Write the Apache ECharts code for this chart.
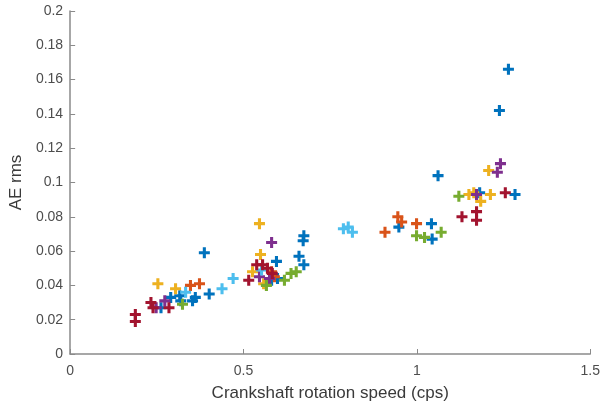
<!DOCTYPE html>
<html>
<head>
<meta charset="utf-8">
<script src="https://cdn.jsdelivr.net/npm/echarts@6/dist/echarts.min.js"></script>
<style>
    html, body {margin: 0; padding: 0; background: #fff;}
    #container {width: 603px; height: 407px;}
</style>
</head>
<body>
<div id="container"></div>
<script type="text/javascript">
    // each series: [speed (cps), AE rms]
    var blueData = [
        [1.264, 0.166], [1.238, 0.142], [1.061, 0.104], [1.283, 0.093], [1.181, 0.094],
        [1.042, 0.076], [0.948, 0.074], [1.044, 0.067], [0.674, 0.069], [0.672, 0.066],
        [0.660, 0.057], [0.674, 0.052], [0.387, 0.059], [0.401, 0.035], [0.361, 0.033],
        [0.353, 0.031], [0.316, 0.034], [0.319, 0.031], [0.290, 0.033], [0.262, 0.027],
        [0.595, 0.054], [0.581, 0.043], [0.598, 0.044]
    ];
    var orangeData = [
        [0.908, 0.071], [0.945, 0.080], [0.956, 0.077], [0.999, 0.076],
        [0.347, 0.040], [0.373, 0.041], [0.581, 0.048], [0.589, 0.045]
    ];
    var yellowData = [
        [0.546, 0.076], [0.549, 0.058], [0.526, 0.048], [0.253, 0.041], [0.304, 0.038],
        [1.207, 0.107], [1.150, 0.093], [1.164, 0.094], [1.184, 0.089], [1.212, 0.093],
        [0.558, 0.041]
    ];
    var purpleData = [
        [1.241, 0.111], [1.232, 0.106], [1.172, 0.093], [0.581, 0.065],
        [0.273, 0.031], [0.248, 0.027], [0.546, 0.045], [0.575, 0.044]
    ];
    var greenData = [
        [0.999, 0.069], [1.022, 0.068], [1.070, 0.071], [1.121, 0.092],
        [0.324, 0.029], [0.566, 0.040], [0.618, 0.043], [0.637, 0.047], [0.652, 0.048]
    ];
    var lightBlueData = [
        [0.788, 0.073], [0.802, 0.074], [0.814, 0.071], [0.470, 0.044],
        [0.438, 0.038], [0.333, 0.036], [0.552, 0.049]
    ];
    var redData = [
        [0.188, 0.023], [0.188, 0.019], [0.233, 0.030], [0.239, 0.027], [0.285, 0.027],
        [0.515, 0.043], [0.538, 0.052], [0.555, 0.052], [0.569, 0.050], [0.583, 0.047],
        [1.130, 0.080], [1.172, 0.083], [1.172, 0.078], [1.255, 0.094]
    ];

    var groups = [
        {data: blueData, color: '#0072BD'},
        {data: orangeData, color: '#D95319'},
        {data: yellowData, color: '#EDB120'},
        {data: purpleData, color: '#7E2F8E'},
        {data: greenData, color: '#77AC30'},
        {data: lightBlueData, color: '#4DBEEE'},
        {data: redData, color: '#A2142F'}
    ];

    var plus = 'path://M3.6,0h2.8v3.6h3.6v2.8h-3.6v3.6h-2.8v-3.6h-3.6v-2.8h3.6z';
    var seriesData = [];
    for (var i = 0; i < groups.length; i++) {
        seriesData.push({
            type: 'scatter',
            data: groups[i].data,
            symbol: plus,
            symbolSize: 11,
            itemStyle: {color: groups[i].color, opacity: 1}
        });
    }

    var myChart = echarts.init(document.getElementById('container'));
    var option = {
        animation: false,
        grid: {left: 66, right: 10, top: 11, bottom: 53},
        xAxis: {
            type: 'value', min: 0, max: 1.5, interval: 0.5,
            name: 'Crankshaft rotation speed (cps)',
            nameLocation: 'middle', nameGap: 31,
            nameTextStyle: {fontSize: 17, color: '#3a3a3a', fontFamily: 'Liberation Sans'},
            axisLine: {lineStyle: {color: '#8a8a8a', width: 1.5}},
            axisTick: {inside: true, length: 5, lineStyle: {color: '#8a8a8a'}},
            axisLabel: {color: '#4d4d4d', fontSize: 14, margin: 10, fontFamily: 'Liberation Sans'},
            splitLine: {show: false}
        },
        yAxis: {
            type: 'value', min: 0, max: 0.2, interval: 0.02,
            name: 'AE rms',
            nameLocation: 'middle', nameGap: 42,
            nameTextStyle: {fontSize: 17, color: '#3a3a3a', fontFamily: 'Liberation Sans'},
            axisLine: {show: true, lineStyle: {color: '#8a8a8a', width: 1.5}},
            axisTick: {show: true, inside: true, length: 5, lineStyle: {color: '#8a8a8a'}},
            axisLabel: {color: '#4d4d4d', fontSize: 14, margin: 7, fontFamily: 'Liberation Sans'},
            splitLine: {show: false}
        },
        series: seriesData
    };
    myChart.setOption(option, true);
</script>
</body>
</html>
